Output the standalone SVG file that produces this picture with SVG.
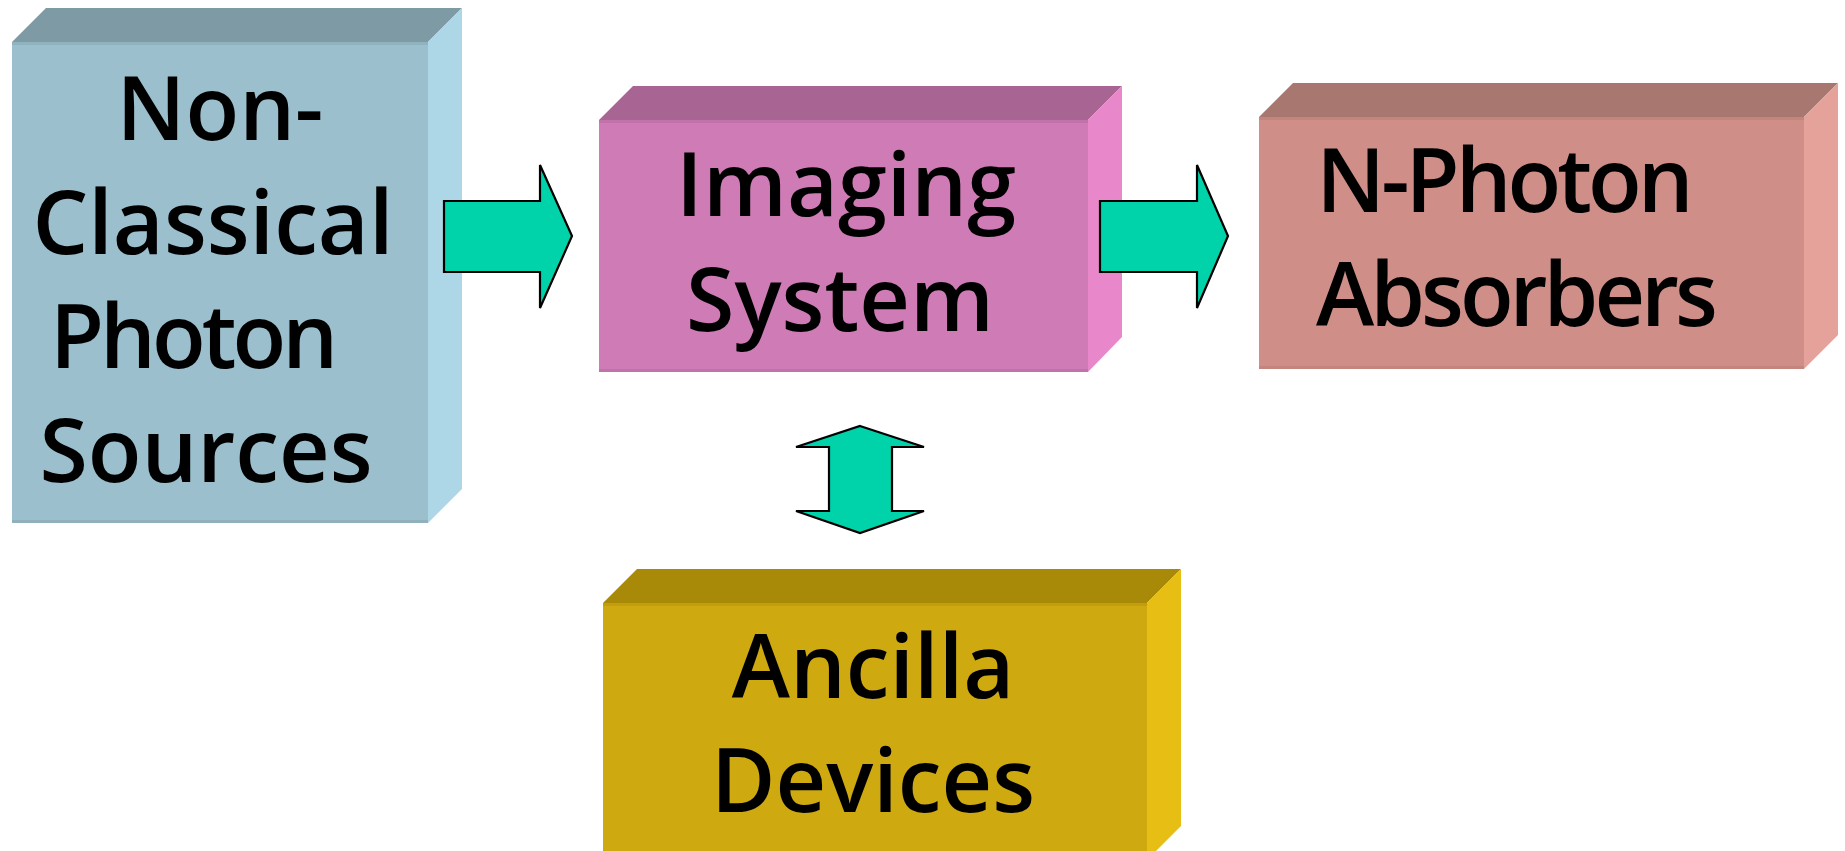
<svg xmlns="http://www.w3.org/2000/svg" width="1845" height="851" viewBox="0 0 1845 851">
  <style>
    .lbl { font-family: "Comic Sans MS", "Open Sans", "DejaVu Sans", sans-serif; font-weight: 600; font-size: 88px; fill: #000; text-anchor: middle; }
    .tight { letter-spacing: -4px; }
    .arrow { fill: #00D2AA; stroke: #000; stroke-width: 2.2; stroke-linejoin: miter; }
    .edge { stroke-width: 3; }
  </style>
  <rect width="1845" height="851" fill="#fff"/>

  <!-- Source block -->
  <g id="sources">
    <polygon points="12,42 46,8 462,8 428,42" fill="#7E9AA4"/>
    <polygon points="428,42 462,8 462,489 428,523" fill="#ADD7E6"/>
    <rect x="12" y="42" width="416" height="481" fill="#9BBFCD"/>
    <line class="edge" x1="12" y1="43.5" x2="428" y2="43.5" stroke="#90B3C0"/>
    <line class="edge" x1="12" y1="521.5" x2="428" y2="521.5" stroke="#8FB0BC"/>
    <text class="lbl" x="220" y="140">Non-</text>
    <text class="lbl" x="213" y="254">Classical</text>
    <text class="lbl tight" x="192" y="368">Photon</text>
    <text class="lbl" x="206" y="482">Sources</text>
  </g>

  <!-- Imaging block -->
  <g id="imaging">
    <polygon points="599,120 633,86 1122,86 1088,120" fill="#A86492"/>
    <polygon points="1088,120 1122,86 1122,337 1088,372" fill="#E888CB"/>
    <rect x="599" y="120" width="489" height="252" fill="#CE7BB6"/>
    <line class="edge" x1="599" y1="121.5" x2="1088" y2="121.5" stroke="#C073AA"/>
    <line class="edge" x1="599" y1="370.5" x2="1088" y2="370.5" stroke="#C073AA"/>
    <text class="lbl" x="846" y="216">Imaging</text>
    <text class="lbl" x="840" y="331">System</text>
  </g>

  <!-- Absorber block -->
  <g id="absorbers">
    <polygon points="1259,117 1293,83 1838,83 1804,117" fill="#A87870"/>
    <polygon points="1804,117 1838,83 1838,335 1804,369" fill="#E5A29A"/>
    <rect x="1259" y="117" width="545" height="252" fill="#CF8F88"/>
    <line class="edge" x1="1259" y1="118.5" x2="1804" y2="118.5" stroke="#C4857E"/>
    <line class="edge" x1="1259" y1="367.5" x2="1804" y2="367.5" stroke="#C4857E"/>
    <text class="lbl tight" x="1503" y="212">N-Photon</text>
    <text class="lbl tight" x="1515" y="326">Absorbers</text>
  </g>

  <!-- Ancilla block -->
  <g id="ancilla">
    <polygon points="603,603 637,569 1181,569 1147,603" fill="#A98A08"/>
    <polygon points="1147,603 1181,569 1181,826 1147,860" fill="#E6BE14"/>
    <rect x="603" y="603" width="544" height="257" fill="#CEA910"/>
    <line class="edge" x1="603" y1="604.5" x2="1147" y2="604.5" stroke="#C29E0E"/>
    <text class="lbl" x="873" y="698">Ancilla</text>
    <text class="lbl" x="873" y="812">Devices</text>
  </g>

  <!-- Block arrows -->
  <g id="connectors">
    <path class="arrow" d="M444,201 H540 V165 L572,236 L540,308 V272 H444 Z"/>
    <path class="arrow" d="M1100,201 H1197 V165 L1228,236 L1197,308 V272 H1100 Z"/>
    <path class="arrow" d="M860,426 L924,447 H892 V511 H924 L860,533 L796,511 H829 V447 H796 Z"/>
  </g>
</svg>
